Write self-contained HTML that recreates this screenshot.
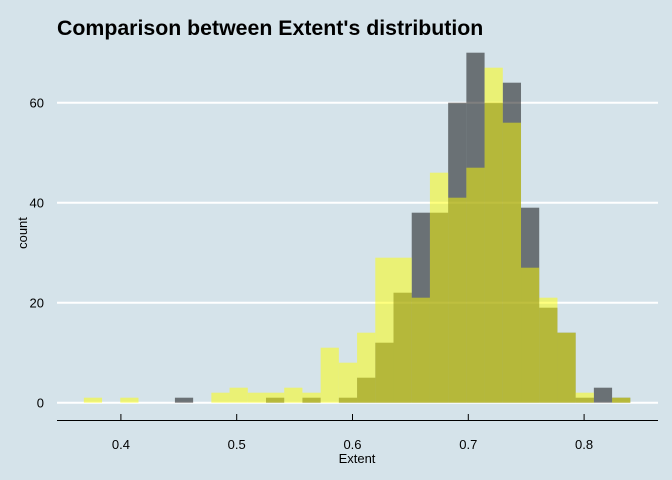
<!DOCTYPE html>
<html><head><meta charset="utf-8"><style>
body{margin:0;background:#d5e3ea;}
svg{display:block;font-family:"Liberation Sans",Arial,sans-serif;}
</style></head><body>
<svg id="chart" width="672" height="480" viewBox="0 0 672 480">
<rect x="0" y="0" width="672" height="480" fill="#d5e3ea"/>
<text x="57" y="35" font-size="21.3" font-weight="bold" fill="#000">Comparison between Extent's distribution</text>
<g id="grid"></g>
<g id="barsDark"></g>
<g id="barsYellow"></g>
<g id="axis"></g>
<text x="0" y="0" transform="translate(27,233) rotate(-90)" text-anchor="middle" font-size="13" fill="#000">count</text>
<text x="357" y="463" text-anchor="middle" font-size="13" fill="#000">Extent</text>
</svg>
<script>
const binStart = 0.368;
const binWidth = 0.01573;
const yellowCounts = [1,0,1,0,0,0,0,2,3,2,2,3,2,11,8,14,29,29,21,46,41,47,67,56,27,21,14,2,0,1];
const darkCounts   = [0,0,0,0,0,1,0,0,0,0,1,0,1,0,1,5,12,22,38,38,60,70,60,64,39,19,14,1,3,1];
const xTicks = [0.4,0.5,0.6,0.7,0.8];
const xTickLabels = ["0.4","0.5","0.6","0.7","0.8"];
const yTicks = [0,20,40,60];
const yTickLabels = ["0","20","40","60"];

const NS = "http://www.w3.org/2000/svg";
function xs(v){ return 468.3 + (v - 0.7) * 1158; }
function ys(c){ return 402.7 - c * 5; }
function mk(tag, attrs, parent){
  const e = document.createElementNS(NS, tag);
  for (const k in attrs) e.setAttribute(k, attrs[k]);
  parent.appendChild(e);
  return e;
}
const grid = document.getElementById('grid');
yTicks.forEach((t,i)=>{
  const l = mk('line',{x1:57,x2:658,y1:ys(t),y2:ys(t),stroke:'#fff','stroke-width':2},grid);
  
  
  const tx = mk('text',{x:44,y:ys(t)+5,'text-anchor':'end','font-size':13,fill:'#000'},grid);
  tx.textContent = yTickLabels[i];
  
  
});
function drawBars(counts, gid, color, name){
  const g = document.getElementById(gid);
  counts.forEach((c,i)=>{
    if (c <= 0) return;
    const x0 = xs(binStart + i*binWidth), x1 = xs(binStart + (i+1)*binWidth);
    const r = mk('rect',{x:x0,y:ys(c),width:x1-x0,height:ys(0)-ys(c),fill:color,'fill-opacity':0.5},g);
    
    
  });
}
drawBars(darkCounts,'barsDark','#000','bar-dark');
drawBars(yellowCounts,'barsYellow','#ffff00','bar-yellow');
const ax = document.getElementById('axis');
const al = mk('line',{x1:57,x2:658,y1:420.5,y2:420.5,stroke:'#000','stroke-width':1},ax);


xTicks.forEach((t,i)=>{
  const tl = mk('line',{x1:xs(t),x2:xs(t),y1:414,y2:420,stroke:'#000','stroke-width':1},ax);
  
  
  const tx = mk('text',{x:xs(t),y:449,'text-anchor':'middle','font-size':13,fill:'#000'},ax);
  tx.textContent = xTickLabels[i];
  
  
});
</script>
</body></html>
